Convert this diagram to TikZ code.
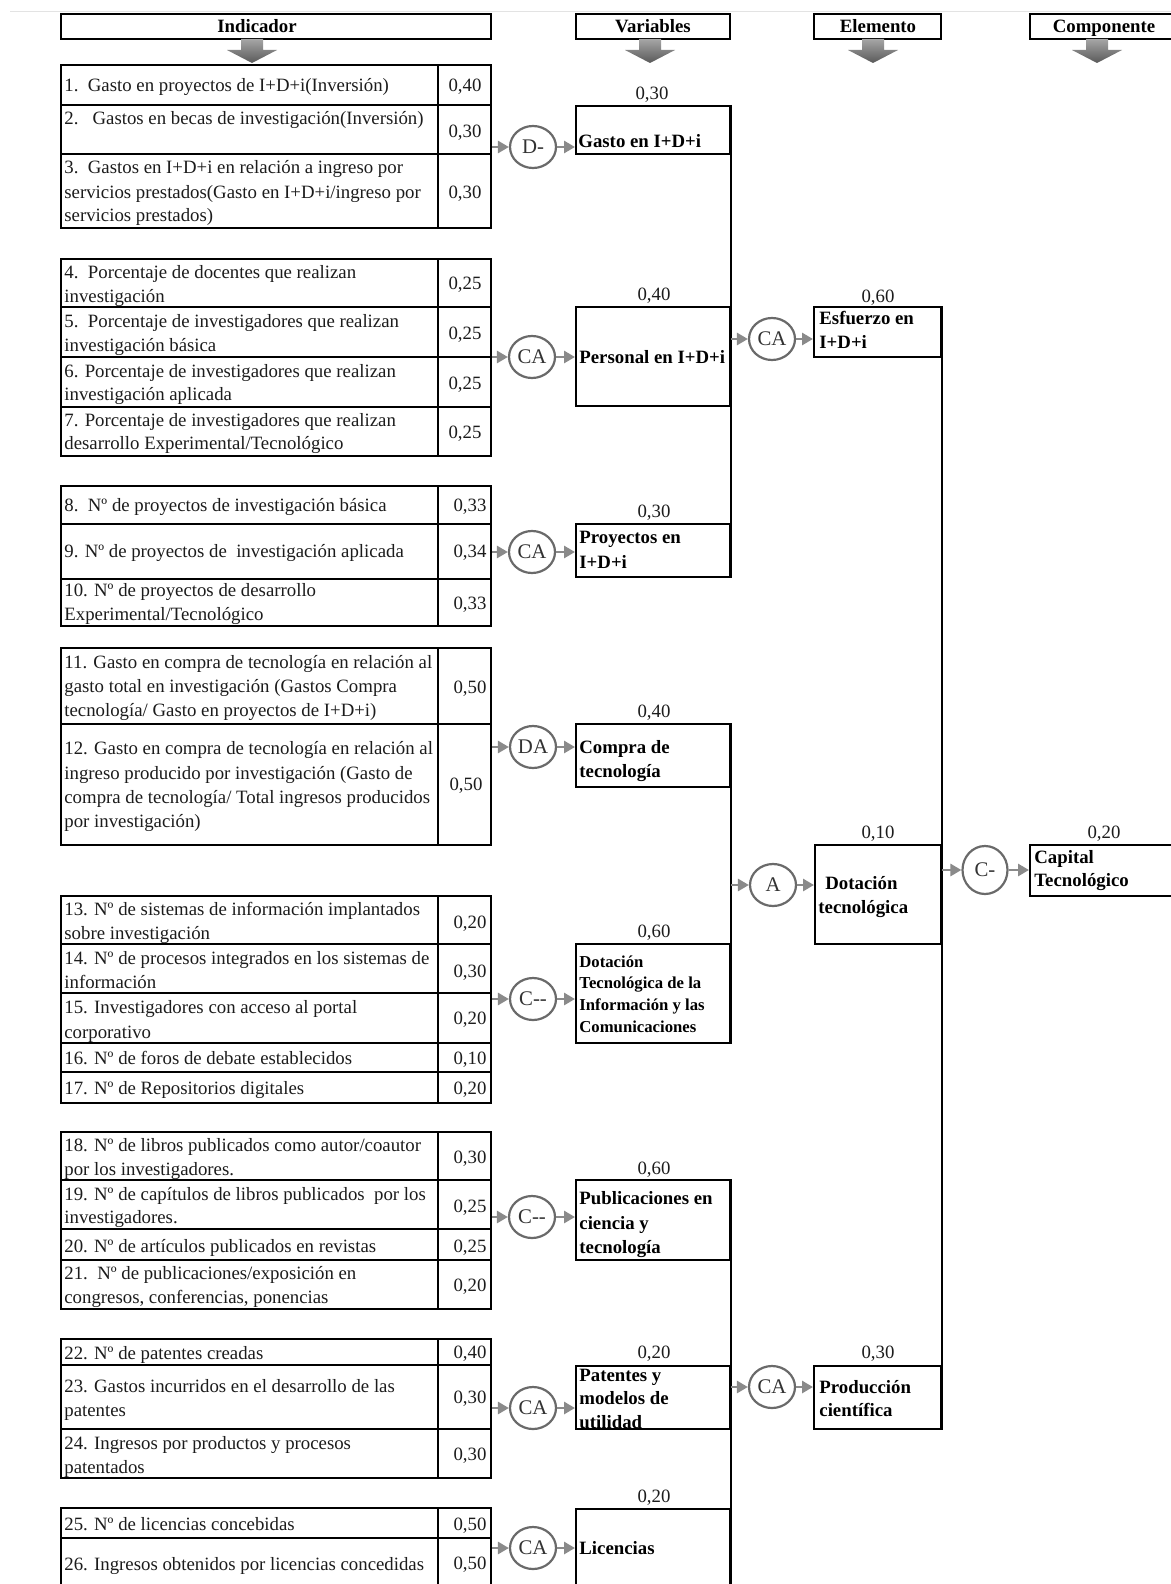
\documentclass[tikz,border=0pt]{standalone}
\usepackage{fontspec}
\setmainfont{Liberation Serif}
\usetikzlibrary{arrows.meta,shapes.geometric,fit}
\definecolor{conngray}{HTML}{8A8A8A}
\definecolor{ringgray}{HTML}{6A6A6A}
\definecolor{inkgray}{HTML}{1C1C1C}
% one line of indicator text, given by its baseline
\newcommand\indline[3]{\node[itxt] (#1) at (64,#2) {#3};}
% a weight, centred on x, given by its baseline
\newcommand\valtxt[4]{\node[vtxt] (#1) at (#2,#3) {#4};}
% one bold line inside a box
\newcommand\bxline[4]{\node[btxt] (#1) at (#2,#3) {#4};}
% thick shaded arrow under a column heading
\newcommand\hdrarrow[1]{\shade[top color=gray!70, bottom color=black!65]
  (#1-11,39) -- (#1+11,39) -- (#1+11,50) -- (#1+25,50) -- (#1,63) -- (#1-25,50) -- (#1-11,50) -- cycle;}
\begin{document}
\begin{tikzpicture}[x=0.5pt,y=-0.5pt,
  body/.style={font=\fontsize{9.4pt}{12pt}\selectfont},
  itxt/.style={body, anchor=base west, inner sep=0pt, text=inkgray},
  vtxt/.style={body, anchor=base, inner sep=0pt, text=inkgray},
  btxt/.style={font=\fontsize{9.4pt}{12pt}\selectfont\bfseries, anchor=base west, inner sep=0pt},
  sbtxt/.style={btxt, font=\fontsize{8.35pt}{11pt}\selectfont\bfseries},
  htxt/.style={font=\fontsize{9.4pt}{12pt}\selectfont\bfseries, anchor=base, inner sep=0pt},
  frame/.style={draw, line width=1pt, inner sep=0pt, fit={#1}},
  op/.style={ellipse, draw=ringgray, line width=1.1pt, minimum width=23pt, minimum height=21pt,
    inner sep=0pt, fill=white, font=\fontsize{10.4pt}{12pt}\selectfont, text=black!80},
  conn/.style={draw=conngray, line width=1.4pt, -{Triangle[length=5.5pt,width=6pt]}},
  grid/.style={line width=1pt},
  vline/.style={line width=1pt}
]
\useasboundingbox (0,0) rectangle (1171,1584);
\fill[white] (0,0) rectangle (1171,1584);
\clip (0,0) rectangle (1171,1584);
\draw[gray!22, line width=0.4pt] (10,11) -- (1171,11);

% ---------- column headings ----------
\node[frame={(61,14) (491,39)}] (hI) {};
\node[frame={(576,14) (730,39)}] (hV) {};
\node[frame={(814,14) (941,39)}] (hE) {};
\node[frame={(1030,14) (1190,39)}] (hC) {};
\node[htxt] (hIt) at (257,33) {Indicador};
\node[htxt] (hVt) at (653,33) {Variables};
\node[htxt] (hEt) at (878,33) {Elemento};
\node[htxt] (hCt) at (1104,33) {Componente};
\hdrarrow{252}
\hdrarrow{650}
\hdrarrow{873}
\hdrarrow{1097}

% ---------- indicator tables ----------
\node[frame={(61,65) (491,228)}] (t1) {};
\draw[grid] (61,105) -- (491,105) (61,154) -- (491,154) (438,65) -- (438,228);
\node[frame={(61,259) (491,456)}] (t2) {};
\draw[grid] (61,307) -- (491,307) (61,357) -- (491,357) (61,407) -- (491,407) (438,259) -- (438,456);
\node[frame={(61,486) (491,626)}] (t3) {};
\draw[grid] (61,524) -- (491,524) (61,579) -- (491,579) (438,486) -- (438,626);
\node[frame={(61,648) (491,845)}] (t4) {};
\draw[grid] (61,724) -- (491,724) (438,648) -- (438,845);
\node[frame={(61,896) (491,1103)}] (t5) {};
\draw[grid] (61,944) -- (491,944) (61,993) -- (491,993) (61,1043) -- (491,1043) (61,1072) -- (491,1072) (438,896) -- (438,1103);
\node[frame={(61,1132) (491,1309)}] (t6) {};
\draw[grid] (61,1180) -- (491,1180) (61,1229) -- (491,1229) (61,1260) -- (491,1260) (438,1132) -- (438,1309);
\node[frame={(61,1339) (491,1478)}] (t7) {};
\draw[grid] (61,1365) -- (491,1365) (61,1429) -- (491,1429) (438,1339) -- (438,1478);
\node[frame={(61,1508) (491,1592)}] (t8) {};
\draw[grid] (61,1538) -- (491,1538) (438,1508) -- (438,1592);

\indline{i1}{91}{1.\ \ Gasto en proyectos de I+D+i(Inversión)}
\indline{i2}{125}{2.\ \ \ Gastos en becas de investigación(Inversión)}
\indline{i3a}{173}{3.\ \ Gastos en I+D+i en relación a ingreso por}
\indline{i3b}{198}{servicios prestados(Gasto en I+D+i/ingreso por}
\indline{i3c}{221}{servicios prestados)}
\indline{i4a}{278}{4.\ \ Porcentaje de docentes que realizan}
\indline{i4b}{302}{investigación}
\indline{i5a}{327}{5.\ \ Porcentaje de investigadores que realizan}
\indline{i5b}{351}{investigación básica}
\indline{i6a}{377}{6. Porcentaje de investigadores que realizan}
\indline{i6b}{400}{investigación aplicada}
\indline{i7a}{426}{7. Porcentaje de investigadores que realizan}
\indline{i7b}{449}{desarrollo Experimental/Tecnológico}
\indline{i8}{511}{8.\ \ Nº de proyectos de investigación básica}
\indline{i9}{557}{9. Nº de proyectos de\ \ investigación aplicada}
\indline{i10a}{596}{10. Nº de proyectos de desarrollo}
\indline{i10b}{620}{Experimental/Tecnológico}
\indline{i11a}{668}{11. Gasto en compra de tecnología en relación al}
\indline{i11b}{692}{gasto total en investigación (Gastos Compra}
\indline{i11c}{716}{tecnología/ Gasto en proyectos de I+D+i)}
\indline{i12a}{754}{12. Gasto en compra de tecnología en relación al}
\indline{i12b}{779}{ingreso producido por investigación (Gasto de}
\indline{i12c}{803}{compra de tecnología/ Total ingresos producidos}
\indline{i12d}{827}{por investigación)}
\indline{i13a}{915}{13. Nº de sistemas de información implantados}
\indline{i13b}{939}{sobre investigación}
\indline{i14a}{964}{14. Nº de procesos integrados en los sistemas de}
\indline{i14b}{988}{información}
\indline{i15a}{1013}{15. Investigadores con acceso al portal}
\indline{i15b}{1038}{corporativo}
\indline{i16}{1064}{16. Nº de foros de debate establecidos}
\indline{i17}{1094}{17. Nº de Repositorios digitales}
\indline{i18a}{1151}{18. Nº de libros publicados como autor/coautor}
\indline{i18b}{1175}{por los investigadores.}
\indline{i19a}{1200}{19. Nº de capítulos de libros publicados\ \ por los}
\indline{i19b}{1223}{investigadores.}
\indline{i20}{1252}{20. Nº de artículos publicados en revistas}
\indline{i21a}{1279}{21.\ \ Nº de publicaciones/exposición en}
\indline{i21b}{1303}{congresos, conferencias, ponencias}
\indline{i22}{1359}{22. Nº de patentes creadas}
\indline{i23a}{1392}{23. Gastos incurridos en el desarrollo de las}
\indline{i23b}{1416}{patentes}
\indline{i24a}{1449}{24. Ingresos por productos y procesos}
\indline{i24b}{1473}{patentados}
\indline{i25}{1530}{25. Nº de licencias concebidas}
\indline{i26}{1570}{26. Ingresos obtenidos por licencias concedidas}

% weights of the indicators
\valtxt{w1}{465}{91}{0,40}
\valtxt{w2}{465}{137}{0,30}
\valtxt{w3}{465}{198}{0,30}
\valtxt{w4}{465}{289}{0,25}
\valtxt{w5}{465}{339}{0,25}
\valtxt{w6}{465}{389}{0,25}
\valtxt{w7}{465}{438}{0,25}
\valtxt{w8}{470}{511}{0,33}
\valtxt{w9}{470}{557}{0,34}
\valtxt{w10}{470}{609}{0,33}
\valtxt{w11}{470}{693}{0,50}
\valtxt{w12}{466}{790}{0,50}
\valtxt{w13}{470}{928}{0,20}
\valtxt{w14}{470}{977}{0,30}
\valtxt{w15}{470}{1024}{0,20}
\valtxt{w16}{470}{1064}{0,10}
\valtxt{w17}{470}{1094}{0,20}
\valtxt{w18}{470}{1163}{0,30}
\valtxt{w19}{470}{1212}{0,25}
\valtxt{w20}{470}{1252}{0,25}
\valtxt{w21}{470}{1291}{0,20}
\valtxt{w22}{470}{1358}{0,40}
\valtxt{w23}{470}{1403}{0,30}
\valtxt{w24}{470}{1460}{0,30}
\valtxt{w25}{470}{1530}{0,50}
\valtxt{w26}{470}{1569}{0,50}

% ---------- variables ----------
\node[frame={(576,106) (730,154)}] (v1) {};
\node[frame={(576,307) (730,406)}] (v2) {};
\node[frame={(576,524) (730,577)}] (v3) {};
\node[frame={(576,724) (730,787)}] (v4) {};
\node[frame={(576,944) (730,1043)}] (v5) {};
\node[frame={(576,1180) (730,1260)}] (v6) {};
\node[frame={(576,1366) (730,1429)}] (v7) {};
\node[frame={(576,1509) (730,1600)}] (v8) {};

\bxline{v1a}{578}{148}{Gasto en I+D+i}
\bxline{v2a}{579}{363}{Personal en I+D+i}
\bxline{v3a}{579}{543}{Proyectos en}
\bxline{v3b}{579}{568}{I+D+i}
\bxline{v4a}{579}{753}{Compra de}
\bxline{v4b}{579}{777}{tecnología}
\node[sbtxt] (v5a) at (579,967) {Dotación};
\node[sbtxt] (v5b) at (579,988) {Tecnológica de la};
\node[sbtxt] (v5c) at (579,1010) {Información y las};
\node[sbtxt] (v5d) at (579,1032) {Comunicaciones};
\bxline{v6a}{579}{1204}{Publicaciones en}
\bxline{v6b}{579}{1229}{ciencia y}
\bxline{v6c}{579}{1253}{tecnología}
\bxline{v7a}{579}{1381}{Patentes y}
\bxline{v7b}{579}{1404}{modelos de}
\bxline{v7c}{579}{1428}{utilidad}
\bxline{v8a}{579}{1554}{Licencias}

\valtxt{p1}{652}{99}{0,30}
\valtxt{p2}{654}{300}{0,40}
\valtxt{p3}{654}{517}{0,30}
\valtxt{p4}{654}{717}{0,40}
\valtxt{p5}{654}{937}{0,60}
\valtxt{p6}{654}{1174}{0,60}
\valtxt{p7}{654}{1358}{0,20}
\valtxt{p8}{654}{1502}{0,20}

% ---------- elements and component ----------
\node[frame={(814,307) (941,357)}] (el1) {};
\node[frame={(815,845) (941,944)}] (el2) {};
\node[frame={(814,1366) (941,1429)}] (el3) {};
\node[frame={(1030,845) (1190,896)}] (cap) {};

\bxline{el1a}{819}{324}{Esfuerzo en}
\bxline{el1b}{819}{348}{I+D+i}
\bxline{el2a}{825}{889}{Dotación}
\bxline{el2b}{818}{913}{tecnológica}
\bxline{el3a}{819}{1393}{Producción}
\bxline{el3b}{819}{1416}{científica}
\bxline{capa}{1034}{863}{Capital}
\bxline{capb}{1034}{886}{Tecnológico}

\valtxt{q1}{878}{302}{0,60}
\valtxt{q2}{878}{838}{0,10}
\valtxt{q3}{878}{1358}{0,30}
\valtxt{q4}{1104}{838}{0,20}

% ---------- joining lines ----------
\draw[vline] (v1.north east) -- (v3.south east);
\draw[vline] (v4.north east) -- (v5.south east);
\draw[vline] (v6.north east) -- (v8.south east);
\draw[vline] (el1.north east) -- (el3.south east);

% ---------- aggregation operators ----------
\node[op] (c1) at (533,147) {D-};
\node[op] (c2) at (532,357) {CA};
\node[op] (c3) at (532,552) {CA};
\node[op] (c4) at (533,747) {DA};
\node[op] (c5) at (533,999) {C-{}-};
\node[op] (c6) at (532,1217) {C-{}-};
\node[op] (c7) at (533,1408) {CA};
\node[op] (c8) at (533,1548) {CA};
\node[op] (e1) at (772,339) {CA};
\node[op] (e2) at (773,885) {A};
\node[op] (e3) at (772,1387) {CA};
\node[op, minimum width=22.5pt, minimum height=24pt] (k1) at (985,870) {C-};

\draw[conn] (c1 -| t1.east) -- (c1);
\draw[conn] (c2 -| t2.east) -- (c2);
\draw[conn] (c3 -| t3.east) -- (c3);
\draw[conn] (c4 -| t4.east) -- (c4);
\draw[conn] (c5 -| t5.east) -- (c5);
\draw[conn] (c6 -| t6.east) -- (c6);
\draw[conn] (c7 -| t7.east) -- (c7);
\draw[conn] (c8 -| t8.east) -- (c8);
\draw[conn] (c1) -- (c1 -| v1.west);
\draw[conn] (c2) -- (c2 -| v2.west);
\draw[conn] (c3) -- (c3 -| v3.west);
\draw[conn] (c4) -- (c4 -| v4.west);
\draw[conn] (c5) -- (c5 -| v5.west);
\draw[conn] (c6) -- (c6 -| v6.west);
\draw[conn] (c7) -- (c7 -| v7.west);
\draw[conn] (c8) -- (c8 -| v8.west);

\draw[conn] (e1 -| v1.east) -- (e1);
\draw[conn] (e2 -| v4.east) -- (e2);
\draw[conn] (e3 -| v6.east) -- (e3);
\draw[conn] (e1) -- (e1 -| el1.west);
\draw[conn] (e2) -- (e2 -| el2.west);
\draw[conn] (e3) -- (e3 -| el3.west);

\draw[conn] (k1 -| el1.east) -- (k1);
\draw[conn] (k1) -- (k1 -| cap.west);
\end{tikzpicture}
\end{document}
